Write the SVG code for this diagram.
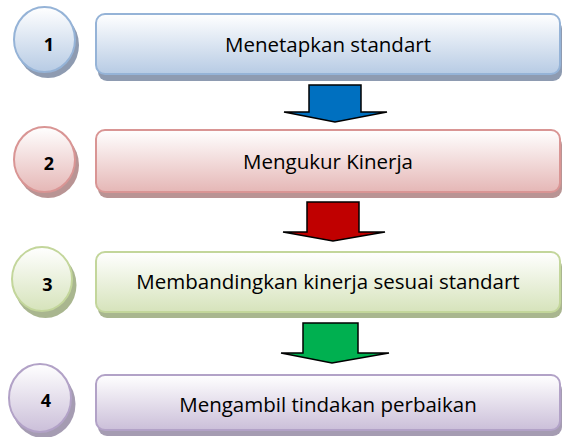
<svg xmlns="http://www.w3.org/2000/svg" width="562" height="437" viewBox="0 0 562 437">
<defs>
<linearGradient id="gBlue" x1="0" y1="0" x2="0" y2="1"><stop offset="0" stop-color="#FFFFFF"/><stop offset="1" stop-color="#B7CBE4"/></linearGradient>
<linearGradient id="gRed" x1="0" y1="0" x2="0" y2="1"><stop offset="0" stop-color="#FFFFFF"/><stop offset="1" stop-color="#E5B7B6"/></linearGradient>
<linearGradient id="gGreen" x1="0" y1="0" x2="0" y2="1"><stop offset="0" stop-color="#FFFFFF"/><stop offset="1" stop-color="#D6E3BB"/></linearGradient>
<linearGradient id="gPurple" x1="0" y1="0" x2="0" y2="1"><stop offset="0" stop-color="#FFFFFF"/><stop offset="1" stop-color="#CBBFD9"/></linearGradient>
<filter id="soft" x="-10%" y="-10%" width="120%" height="130%"><feGaussianBlur stdDeviation="0.5"/></filter>
</defs>
<style>
.num{font-family:"Open Sans","DejaVu Sans",sans-serif;font-weight:bold;font-size:18px;fill:#000;text-anchor:middle}
.lbl{font-family:"Open Sans","DejaVu Sans",sans-serif;font-size:20.5px;fill:#000;text-anchor:middle}
.sh{filter:url(#soft)}
.b-blue{fill:url(#gBlue);stroke:#95B3D7;stroke-width:2}
.b-red{fill:url(#gRed);stroke:#D99594;stroke-width:2}
.b-green{fill:url(#gGreen);stroke:#C3D69B;stroke-width:2}
.b-purple{fill:url(#gPurple);stroke:#B2A2C7;stroke-width:2}
.arrow{stroke:#000;stroke-width:1.5;stroke-linejoin:miter}
</style>

<g id="step1">
<ellipse class="sh" cx="48" cy="45" rx="31" ry="33" fill="#8E9BB1"/>
<ellipse class="b-blue" cx="44.5" cy="39.5" rx="30.5" ry="32.5"/>
<text class="num" x="49" y="50.5">1</text>
<rect class="sh" x="98" y="20" width="464" height="61" rx="9" fill="#8E9BB1"/>
<rect class="b-blue" x="96" y="14" width="464" height="60" rx="9"/>
<text class="lbl" x="328" y="51.5">Menetapkan standart</text>
</g>

<g id="step2">
<ellipse class="sh" cx="48" cy="165" rx="31" ry="33" fill="#B99494"/>
<ellipse class="b-red" cx="44.5" cy="159.5" rx="30.5" ry="32.5"/>
<text class="num" x="49" y="169.5">2</text>
<rect class="sh" x="98" y="136" width="464" height="62" rx="9" fill="#B99494"/>
<rect class="b-red" x="96" y="130" width="464" height="62" rx="9"/>
<text class="lbl" x="328" y="168.5">Mengukur Kinerja</text>
</g>

<g id="step3">
<ellipse class="sh" cx="45.5" cy="285" rx="31" ry="33" fill="#A9B68F"/>
<ellipse class="b-green" cx="42" cy="279" rx="30" ry="32"/>
<text class="num" x="47.5" y="291">3</text>
<rect class="sh" x="98" y="258" width="464" height="60" rx="9" fill="#A9B68F"/>
<rect class="b-green" x="96" y="252" width="464" height="60" rx="9"/>
<text class="lbl" x="328" y="289">Membandingkan kinerja sesuai standart</text>
</g>

<g id="step4">
<ellipse class="sh" cx="43.5" cy="404" rx="32" ry="34" fill="#A59CB2"/>
<ellipse class="b-purple" cx="40" cy="398" rx="31" ry="34"/>
<text class="num" x="46" y="407">4</text>
<rect class="sh" x="98" y="381" width="464" height="55" rx="9" fill="#A59CB2"/>
<rect class="b-purple" x="96" y="375" width="464" height="55" rx="9"/>
<text class="lbl" x="328" y="412">Mengambil tindakan perbaikan</text>
</g>

<g id="connectors">
<polygon class="arrow" fill="#0070C0" points="309,85 361,85 361,112 387,112 335,122 284,112 309,112"/>
<polygon class="arrow" fill="#C00000" points="307,202 359,202 359,232 385,232 333,241 283,232 307,232"/>
<polygon class="arrow" fill="#00B050" points="303,323 358,323 358,353 389,353 332,363 281,353 303,353"/>
</g>
</svg>
